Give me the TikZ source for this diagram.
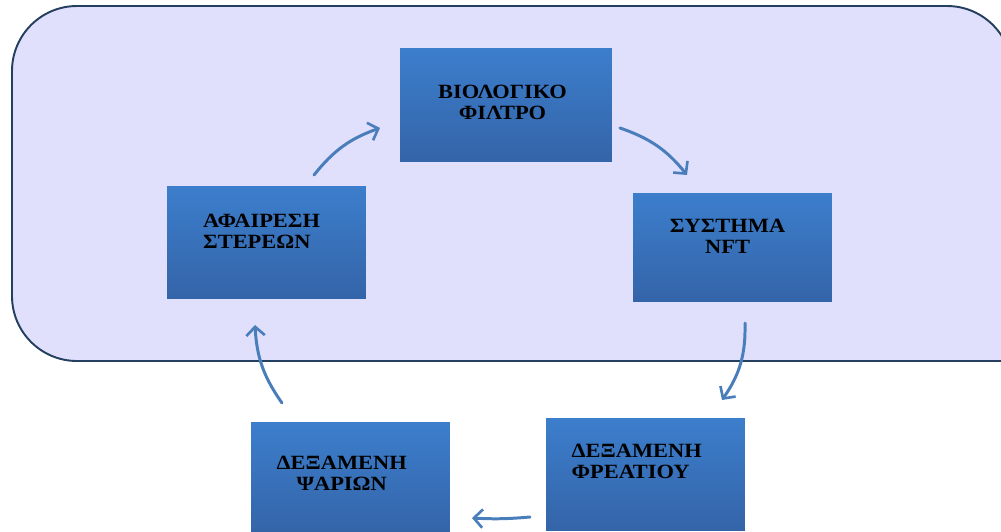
\documentclass[tikz,border=0pt]{standalone}
\usepackage{fontspec}
\setmainfont{Liberation Serif}
\usetikzlibrary{arrows.meta}

\definecolor{lavender}{RGB}{224,224,253}
\definecolor{frameblue}{RGB}{36,63,96}
\definecolor{boxtop}{RGB}{60,126,204}
\definecolor{boxbot}{RGB}{52,100,168}
\definecolor{flowblue}{RGB}{74,126,187}

\tikzset{
    tank/.style={rectangle, inner sep=0pt, top color=boxtop, bottom color=boxbot,
        minimum width=3.98cm, minimum height=2.26cm},
    tanktext/.style={font=\fontsize{11.5}{12}\selectfont\bfseries\addfontfeature{FakeStretch=1.11},
        inner sep=0pt},
    flow/.style={draw=flowblue, line width=1.7pt, line cap=round,
        -{Straight Barb[length=5pt,width=10.5pt,line width=1.5pt]}}
}

\begin{document}
\begin{tikzpicture}[x=0.02cm, y=-0.02cm]
    \useasboundingbox (0,0) rectangle (1001,531);
    \clip (0,0) rectangle (1001,531);

    % frame, its right side lies off the page
    \draw[draw=frameblue, fill=lavender, line width=1.1pt, rounded corners=1.3cm]
        (1100,361) -- (12,361) -- (12,6) -- (1012,6) -- (1012,420) -- cycle;

    \node[tank, minimum width=4.24cm, minimum height=2.28cm,
        label={[tanktext, align=center, xshift=-2pt, yshift=1.7pt]center:ΒΙΟΛΟΓΙΚΟ\\ΦΙΛΤΡΟ}]
        (bio) at (506,105) {};
    \node[tank,
        label={[tanktext, align=left, xshift=-2.8pt, yshift=6.2pt]center:ΑΦΑΙΡΕΣΗ\\ΣΤΕΡΕΩΝ}]
        (afair) at (266.5,242.5) {};
    \node[tank, minimum height=2.18cm,
        label={[tanktext, align=center, xshift=-2.8pt, yshift=6.2pt]center:ΣΥΣΤΗΜΑ\\NFT}]
        (nft) at (732.5,247.5) {};
    \node[tank,
        label={[tanktext, align=left, xshift=-5pt, yshift=7.4pt]center:ΔΕΞΑΜΕΝΗ\\ΦΡΕΑΤΙΟΥ}]
        (freat) at (645.5,474.5) {};
    \node[tank,
        label={[tanktext, align=center, xshift=-5pt, yshift=2.8pt]center:ΔΕΞΑΜΕΝΗ\\ΨΑΡΙΩΝ}]
        (psar) at (350.5,478.5) {};

    % arrow ends
    \coordinate (afairout) at (314,175);
    \coordinate (bioin) at (380,128);
    \coordinate (bioout) at (620,128);
    \coordinate (nftin) at (687,175);
    \coordinate (nftout) at (745,323);
    \coordinate (freatin) at (722,400);
    \coordinate (freatout) at (530,517);
    \coordinate (psarin) at (472,518);
    \coordinate (psarout) at (282,403);
    \coordinate (afairin) at (255,325);

    \draw[flow] (afairout) to[bend left=16] (bioin);
    \draw[flow] (bioout) to[bend left=16] (nftin);
    \draw[flow] (nftout) to[bend left=18] (freatin);
    \draw[flow] (freatout) to[bend left=4] (psarin);
    \draw[flow] (psarout) to[bend left=16] (afairin);
\end{tikzpicture}
\end{document}
